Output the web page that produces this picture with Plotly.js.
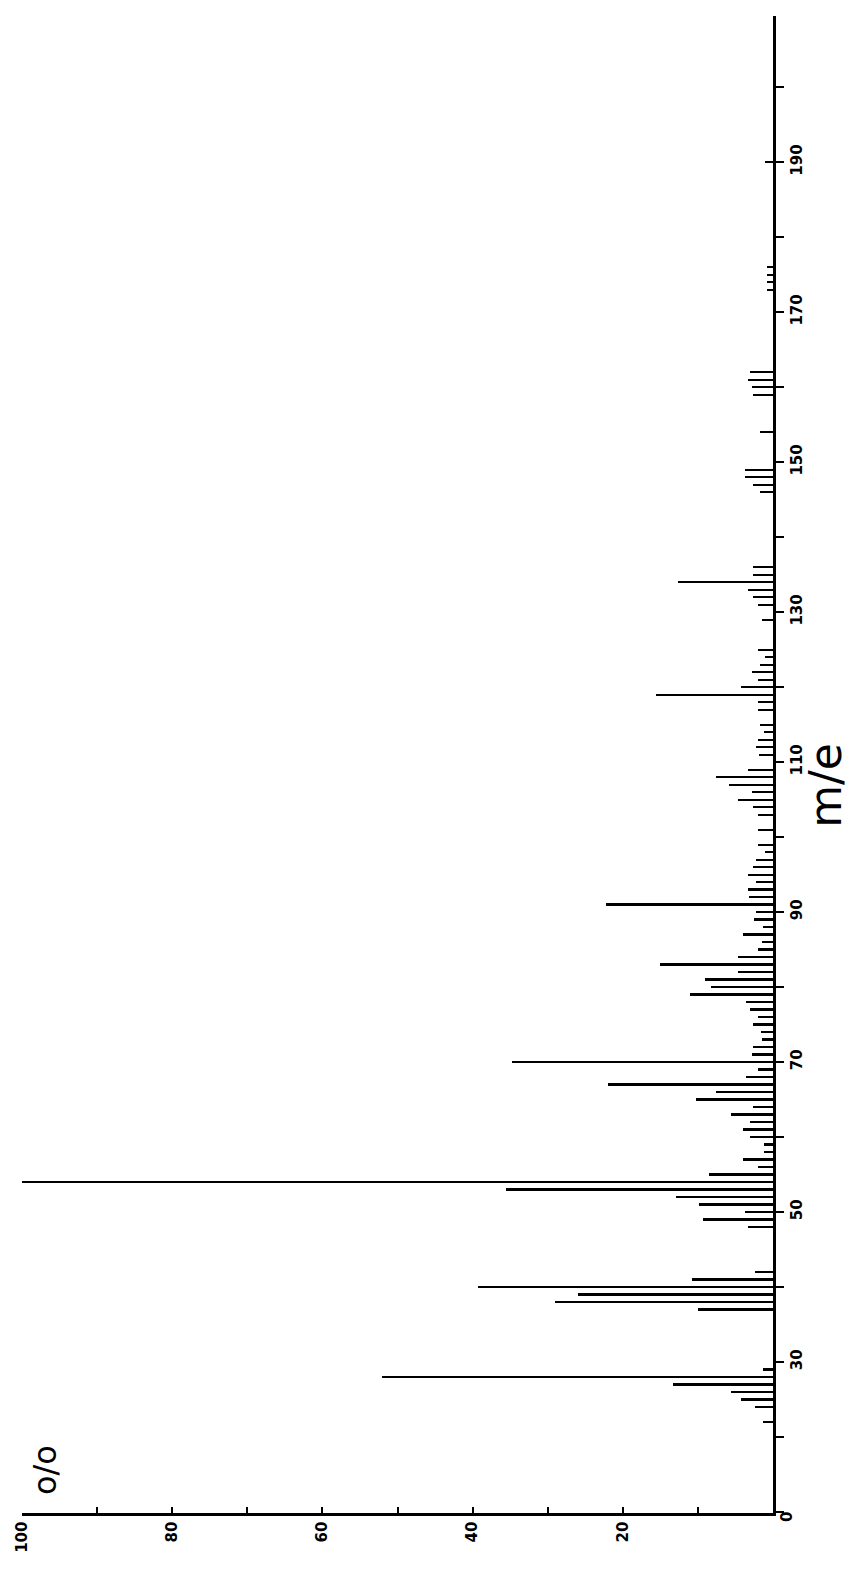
<!DOCTYPE html>
<html>
<head>
<meta charset="utf-8">
<script src="https://cdn.plot.ly/plotly-3.0.1.min.js"></script>
<style>
html,body{margin:0;padding:0;background:#fff;}
#chart{width:857px;height:1571px;}
</style>
</head>
<body>
<div id="chart"></div>
<script>
// m/e values and relative intensities (%)
const massToCharge = [22,24,25,26,27,28,29,
  37,38,39,40,41,42,
  48,49,50,51,52,53,54,55,56,57,58,59,
  60,61,62,63,64,65,66,67,68,69,70,71,72,73,74,75,76,77,78,79,
  80,81,82,83,84,85,86,87,88,89,90,91,92,93,94,95,96,97,98,99,
  101,103,104,105,106,107,108,109,111,112,113,114,115,117,118,119,
  120,121,122,123,124,125,129,131,132,133,134,135,136,
  146,147,148,149,154,159,160,161,162,173,174,175,176,190];
const intensity = [1.3,2.4,4.3,5.6,13.3,52,1.3,
  10,29,26,39.3,10.8,2.4,
  3.3,9.3,3.7,9.8,12.9,35.6,100,8.5,2,4,1.2,1.2,
  3,4,3,5.6,2.7,10.3,7.6,22,3.6,2,34.8,2.8,2.7,1.5,1.6,2.7,2,3,3.6,11,
  8.3,9,4.7,15,4.7,2,1.5,4,1.3,2.5,2.3,22.3,3.2,3.3,2.3,3.3,2.6,2.3,1,2,
  2,2,2.7,4.7,2.8,5.9,7.6,3.3,1.8,2.3,2,1.2,1.7,2,2,15.6,
  4.3,2,2.8,1.7,1,2,1.5,2,2.6,3.3,12.6,2.6,2.6,
  1.7,2.7,3.7,3.7,1.7,2.6,2.8,3.3,3,0.8,0.8,0.8,0.8,1];

const intensityTicks = [10,20,30,40,50,60,70,80,90,100];
const intensityLabels = ['','20','','40','','60','','80','','100'];
const massTicks = [10,20,30,40,50,60,70,80,90,100,110,120,130,140,150,160,170,180,190,200];
const massLabels = ['','','30','','50','','70','','90','','110','','130','','150','','170','','190',''];

const tickFont = {family:'DejaVu Sans', size:15, color:'#000', weight:'bold'};

const trace = {
  type:'bar',
  orientation:'h',
  x: intensity,
  y: massToCharge,
  width: 0.3,
  marker:{color:'#000', line:{width:0}},
  hoverinfo:'x+y',
  showlegend:false
};

const layout = {
  width:857, height:1571,
  margin:{l:22, r:84, t:16, b:58, pad:0},
  paper_bgcolor:'#fff', plot_bgcolor:'#fff',
  bargap:0,
  xaxis:{
    range:[100,0], autorange:false,
    showgrid:false, zeroline:false,
    showline:true, linecolor:'#000', linewidth:2.5,
    ticks:'inside', ticklen:6, tickwidth:2, tickcolor:'#000',
    tickvals:intensityTicks, ticktext:intensityLabels,
    tickangle:-90, tickfont:tickFont
  },
  yaxis:{
    range:[9.87,209.5], autorange:false,
    side:'right',
    showgrid:false, zeroline:false,
    showline:true, linecolor:'#000', linewidth:2.5,
    ticks:'outside', ticklen:8, tickwidth:2, tickcolor:'#000',
    tickvals:massTicks, ticktext:massLabels,
    tickangle:-90, tickfont:tickFont
  },
  annotations:[
    {x:1.0186, y:-0.0027, xref:'paper', yref:'paper', text:'0', showarrow:false, textangle:-90,
     xanchor:'center', yanchor:'middle', font:tickFont},
    {x:0.0306, y:0.0287, xref:'paper', yref:'paper', text:'o/o', showarrow:false, textangle:-90,
     xanchor:'center', yanchor:'middle', font:{family:'DejaVu Sans', size:32, color:'#000'}},
    {x:1.069, y:0.4863, xref:'paper', yref:'paper', text:'m/e', showarrow:false, textangle:-90,
     xanchor:'center', yanchor:'middle', font:{family:'DejaVu Sans', size:44, color:'#000'}}
  ]
};

Plotly.newPlot('chart', [trace], layout, {displayModeBar:false, staticPlot:true});
</script>
</body>
</html>
